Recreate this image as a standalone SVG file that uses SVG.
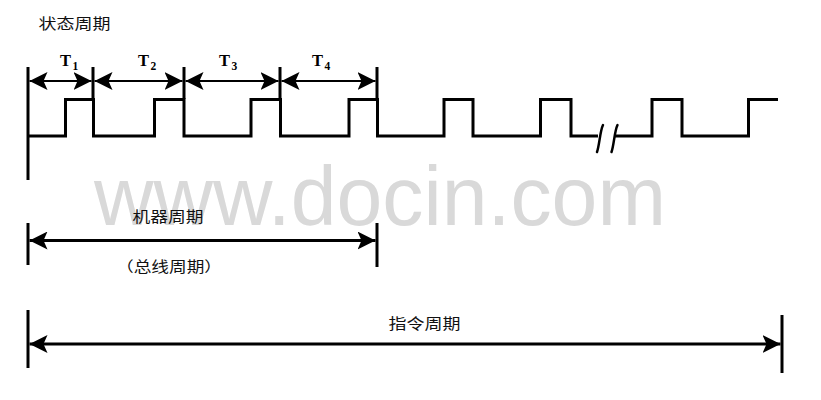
<svg xmlns="http://www.w3.org/2000/svg" width="821" height="400" viewBox="0 0 821 400">
  <style>
    .wm { font-family: "Liberation Sans", Arial, sans-serif; font-size: 84px; fill: #d9d9d9; }
    .cjk { font-family: "Noto Sans CJK SC", "Noto Sans CJK JP", sans-serif; font-size: 14.5px; fill: #111; }
    .t { font-family: "Liberation Serif", "Times New Roman", serif; font-weight: bold; font-size: 16.5px; fill: #000; }
    .sub { font-size: 11.5px; }
    .wave { fill: none; stroke: #000; stroke-width: 3; stroke-linejoin: miter; }
    .tick { stroke: #000; stroke-width: 3; fill: none; }
    .dim { stroke: #000; fill: none; }
    .thin { stroke-width: 2; }
    .thick { stroke-width: 3; }
    .brk { fill: none; stroke: #000; stroke-width: 2.5; stroke-linecap: round; }
  </style>
  <defs>
    <marker id="ah" markerUnits="userSpaceOnUse" viewBox="0 0 18 18" refX="18" refY="9" markerWidth="18" markerHeight="18" orient="auto-start-reverse">
      <path d="M0,0 L18,9 L0,18 L4,9 z" fill="#000"/>
    </marker>
    <marker id="ahL" markerUnits="userSpaceOnUse" viewBox="0 0 18 18" refX="18" refY="9" markerWidth="18" markerHeight="18" orient="auto-start-reverse">
      <path d="M0,0 L18,9 L0,18 L4,9 z" fill="#000"/>
    </marker>
  </defs>

  <rect width="821" height="400" fill="#fff"/>

  <text id="watermark" class="wm" x="94" y="225" textLength="572" lengthAdjust="spacingAndGlyphs">www.docin.com</text>

  <g id="state-cycle">
    <text class="cjk" x="38.5" y="29" textLength="72" lengthAdjust="spacingAndGlyphs">状态周期</text>
    <line class="tick" x1="28" y1="67" x2="28" y2="180"/>
    <line class="tick" x1="93" y1="67" x2="93" y2="99"/>
    <line class="tick" x1="184" y1="67" x2="184" y2="99"/>
    <line class="tick" x1="280" y1="67" x2="280" y2="99"/>
    <line class="tick" x1="377" y1="67" x2="377" y2="99"/>
    <text id="T1" class="t" x="60" y="66">T<tspan class="sub" dx="1.5" dy="4">1</tspan></text>
    <text id="T2" class="t" x="138" y="66">T<tspan class="sub" dx="1.5" dy="4">2</tspan></text>
    <text id="T3" class="t" x="219" y="66">T<tspan class="sub" dx="1.5" dy="4">3</tspan></text>
    <text id="T4" class="t" x="312" y="66">T<tspan class="sub" dx="1.5" dy="4">4</tspan></text>
  </g>

  <g id="clock">
    <path class="wave" d="M28,136 H65.5 V99.5 H93.5 V136 H154.5 V99.5 H184 V136 H251 V99.5 H280.5 V136 H349 V99.5 H377.5 V136 H444 V99.5 H473 V136 H540.5 V99.5 H571 V136 H598"/>
    <path class="wave" d="M615,136 H652 V99.5 H682 V136 H748.5 V99.5 H778"/>
    <path class="brk" d="M597,152 C599.5,145 600,131 603,125"/>
    <path class="brk" d="M611.5,152 C614,145 614.5,131 617.5,125"/>
  </g>

  <g id="machine-cycle">
    <line class="tick" x1="28" y1="223" x2="28" y2="265"/>
    <line class="tick" x1="377" y1="223" x2="377" y2="267"/>
    <text class="cjk" x="132.5" y="222" textLength="71" lengthAdjust="spacingAndGlyphs">机器周期</text>
    <text class="cjk" x="116" y="272" textLength="106" lengthAdjust="spacingAndGlyphs">（总线周期）</text>
  </g>

  <g id="instruction-cycle">
    <line class="tick" x1="28" y1="310" x2="28" y2="368"/>
    <line class="tick" x1="782" y1="315" x2="782" y2="373"/>
    <text class="cjk" x="388.5" y="329" textLength="72" lengthAdjust="spacingAndGlyphs">指令周期</text>
  </g>

  <g id="connectors">
    <line class="dim thin" x1="29.5" y1="81" x2="91.5" y2="81" marker-start="url(#ah)" marker-end="url(#ah)"/>
    <line class="dim thin" x1="94.5" y1="81" x2="182.5" y2="81" marker-start="url(#ah)" marker-end="url(#ah)"/>
    <line class="dim thin" x1="185.5" y1="81" x2="278.5" y2="81" marker-start="url(#ah)" marker-end="url(#ah)"/>
    <line class="dim thin" x1="281.5" y1="81" x2="375.5" y2="81" marker-start="url(#ah)" marker-end="url(#ah)"/>
    <line class="dim thick" x1="29.5" y1="240.5" x2="375.5" y2="240.5" marker-start="url(#ahL)" marker-end="url(#ahL)"/>
    <line class="dim thick" x1="29.5" y1="344" x2="780.5" y2="344" marker-start="url(#ahL)" marker-end="url(#ahL)"/>
  </g>
</svg>
